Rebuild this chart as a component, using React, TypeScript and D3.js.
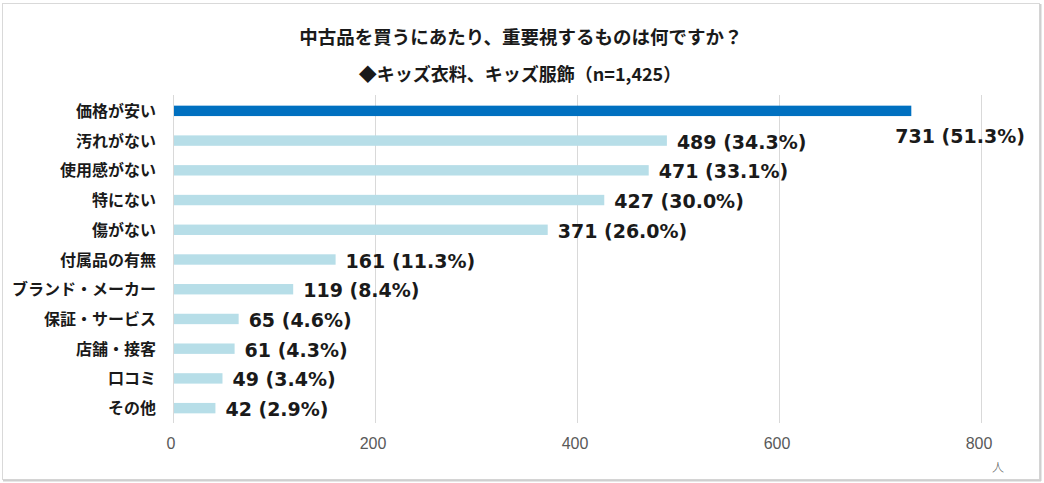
import * as d3 from 'd3';
import * as React from 'react';

const categories = [
  '価格が安い',
  '汚れがない',
  '使用感がない',
  '特にない',
  '傷がない',
  '付属品の有無',
  'ブランド・メーカー',
  '保証・サービス',
  '店舗・接客',
  '口コミ',
  'その他',
];
const counts = [731, 489, 471, 427, 371, 161, 119, 65, 61, 49, 42];
const shares = ['51.3%', '34.3%', '33.1%', '30.0%', '26.0%', '11.3%', '8.4%', '4.6%', '4.3%', '3.4%', '2.9%'];
const xTicks = [0, 200, 400, 600, 800];

const W = 1044;
const H = 483;
const JP = '"Noto Sans CJK JP", "Noto Sans", sans-serif';

const App = () => {
  const ref = React.useRef<SVGSVGElement>(null);

  React.useEffect(() => {
    const svg = d3.select(ref.current);
    svg.selectAll('*').remove();

    // chart frame
    svg.append('rect').attr('x', 2.5).attr('y', 3.5).attr('width', 1037).attr('height', 476)
      .attr('fill', '#fff').attr('stroke', '#d9d9d9');
    svg.append('line').attr('x1', 1040.5).attr('x2', 1040.5).attr('y1', 4).attr('y2', 481)
      .attr('stroke', '#cfcfcf').attr('stroke-width', 2);
    svg.append('line').attr('x1', 3).attr('x2', 1041).attr('y1', 480.5).attr('y2', 480.5)
      .attr('stroke', '#cfcfcf').attr('stroke-width', 2);

    svg.append('text').attr('x', 521).attr('y', 44).attr('text-anchor', 'middle')
      .style('font-family', JP).style('font-weight', 700).style('font-size', '18.5px').style('fill', '#1a1a1a')
      .text('中古品を買うにあたり、重要視するものは何ですか？');
    svg.append('text').attr('x', 520).attr('y', 81).attr('text-anchor', 'middle')
      .style('font-family', JP).style('font-weight', 700).style('font-size', '18px').style('fill', '#1a1a1a')
      .text('◆キッズ衣料、キッズ服飾（n=1,425）');

    const x = d3.scaleLinear().domain([0, 800]).range([173, 981]);
    const y = d3.scaleBand().domain(categories).range([96, 423]).paddingInner(0.65).paddingOuter(0.325);

    // grid
    svg.append('g').selectAll('line').data(xTicks).join('line')
      .attr('x1', (d) => x(d) + 0.5).attr('x2', (d) => x(d) + 0.5)
      .attr('y1', 95).attr('y2', 423)
      .attr('stroke', '#d9d9d9').attr('stroke-width', 1);

    svg.append('g').selectAll('text').data(xTicks).join('text')
      .attr('x', (d) => x(d) - 2).attr('y', 449).attr('text-anchor', 'middle')
      .style('font-family', '"Liberation Sans", Arial, sans-serif').style('font-size', '16px').style('fill', '#595959')
      .text((d) => d);

    svg.append('text').attr('x', 998).attr('y', 472).attr('text-anchor', 'middle')
      .style('font-family', JP).style('font-size', '12px').style('font-weight', 300).style('fill', '#595959')
      .text('人');

    // bars
    svg.append('g').selectAll('rect').data(counts).join('rect')
      .attr('x', x(0) + 1)
      .attr('y', (d, i) => y(categories[i]))
      .attr('width', (d) => x(d) - x(0) - 1)
      .attr('height', y.bandwidth())
      .attr('fill', (d, i) => (i === 0 ? '#0070c0' : '#b7dee8'));

    // category labels
    svg.append('g').selectAll('text').data(categories).join('text')
      .attr('x', 156).attr('y', (d) => y(d) + y.bandwidth() / 2 + 6)
      .attr('text-anchor', 'end')
      .style('font-family', JP).style('font-weight', 700).style('font-size', '16px').style('fill', '#1a1a1a')
      .text((d) => d);

    // value labels (the longest bar has its label set below its end)
    svg.append('g').selectAll('text').data(counts).join('text')
      .attr('x', (d, i) => (i === 0 ? x(d) - 16 : x(d) + 10))
      .attr('y', (d, i) => (i === 0 ? y(categories[i]) + 37 : y(categories[i]) + y.bandwidth() / 2 + 8))
      .style('font-family', '"DejaVu Sans", Verdana, sans-serif').style('font-weight', 700)
      .style('font-size', '19px').style('fill', '#1a1a1a')
      .text((d, i) => `${d} (${shares[i]})`);
  }, []);

  return (
    <svg
      ref={ref}
      width={W}
      height={H}
      style={{ position: 'absolute', left: 0, top: 0, display: 'block', background: '#fff' }}
    />
  );
};

export default App;
